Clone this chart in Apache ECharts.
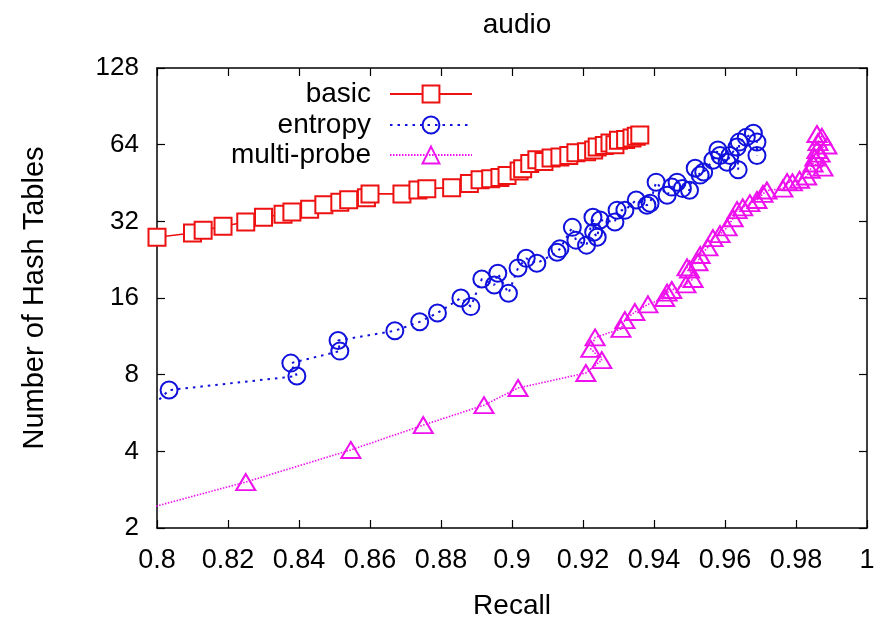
<!DOCTYPE html>
<html>
<head>
<meta charset="utf-8">
<title>audio</title>
<script src="https://cdn.jsdelivr.net/npm/echarts@6/dist/echarts.min.js"></script>
<style>
  html, body { margin: 0; padding: 0; background: #fff; }
  #chart { width: 882px; height: 621px; }
</style>
</head>
<body>
<div id="chart"></div>
<script>
// values (recall vs number of hash tables)
const basicRecall = [0.800, 0.810, 0.813, 0.8186, 0.825, 0.830, 0.8355, 0.838, 0.843, 0.847,
  0.8515, 0.854, 0.859, 0.860, 0.869, 0.8735, 0.876, 0.883, 0.888, 0.891,
  0.894, 0.8966, 0.8986, 0.902, 0.903, 0.905, 0.907, 0.909, 0.911, 0.9135,
  0.916, 0.918, 0.921, 0.923, 0.924, 0.926, 0.9276, 0.929, 0.930, 0.932,
  0.9338, 0.935, 0.936];
const basicTables = [27.7, 28.8, 29.5, 30.6, 31.8, 33.2, 34.1, 34.8, 35.7, 37.2,
  38, 38.9, 39.6, 41, 41, 42.5, 43, 43.4, 45, 46.6,
  47, 47.6, 48.4, 50.4, 51.5, 54, 55.8, 55, 56.7, 57.2,
  58, 59.5, 60, 61, 62.7, 63.5, 65, 64, 66.6, 67,
  68, 69, 69.8];

const entropyRecall = [0.790, 0.8034, 0.8394, 0.8377, 0.8515, 0.851, 0.867, 0.874, 0.879, 0.8856,
  0.8884, 0.8915, 0.895, 0.896, 0.899, 0.9017, 0.904, 0.907, 0.9127, 0.9135,
  0.917, 0.918, 0.921, 0.9228, 0.923, 0.924, 0.9248, 0.929, 0.9296, 0.9318,
  0.935, 0.938, 0.9389, 0.9406, 0.9437, 0.945, 0.9465, 0.948, 0.950, 0.9516,
  0.953, 0.954, 0.9566, 0.958, 0.9586, 0.9606, 0.9614, 0.9634, 0.9637, 0.964,
  0.966, 0.968, 0.969, 0.969];
const entropyTables = [4.6, 6.96, 7.9, 8.88, 9.9, 10.9, 11.9, 12.9, 13.97, 16,
  14.8, 19, 18, 20, 16.7, 21, 22.9, 21.9, 24.2, 25,
  30.3, 27, 25.8, 33.2, 29, 27.7, 32.4, 31.8, 35.4, 35.4,
  38.8, 37, 37.7, 45.6, 40.5, 43.6, 45.6, 43.1, 42.4, 51.7,
  48.6, 50, 55.6, 61, 58, 54.6, 58, 62.6, 51, 65.5,
  68.5, 71, 65.5, 58];

const multiRecall = [0.790, 0.825, 0.8546, 0.875, 0.8921, 0.9017, 0.9208, 0.9253, 0.9222, 0.9234,
  0.9307, 0.9318, 0.9346, 0.9383, 0.943, 0.9437, 0.945, 0.949, 0.951, 0.950,
  0.9493, 0.9524, 0.953, 0.9552, 0.9566, 0.9586, 0.9606, 0.9623, 0.9634, 0.965,
  0.967, 0.969, 0.9707, 0.9718, 0.9763, 0.9775, 0.979, 0.981, 0.983, 0.984,
  0.9848, 0.9876, 0.9853, 0.9868, 0.9859, 0.9887, 0.9862, 0.9873, 0.9859];
const multiTables = [2.24, 3.03, 4.05, 5.07, 6.07, 7.09, 8.12, 9.13, 10.1, 11.2,
  12.1, 13.1, 14.1, 15.1, 16, 16.8, 17.2, 18.1, 19, 20.7,
  21.1, 22.1, 23.6, 25.3, 27.5, 28.5, 30.3, 32.9, 35.4, 36.3,
  37.7, 38.8, 41, 42.3, 43, 45.6, 45.5, 46.6, 48, 51,
  54, 52, 57, 59, 61, 63.5, 65.5, 68.7, 70.5];

const xTicks = [0.8, 0.82, 0.84, 0.86, 0.88, 0.9, 0.92, 0.94, 0.96, 0.98, 1];
const yTicks = [2, 4, 8, 16, 32, 64, 128];

const FONT = 'Liberation Sans, Arial, sans-serif';
const pairs = (xs, ys) => xs.map((x, i) => [x, ys[i]]);

const chart = echarts.init(document.getElementById('chart'));

const axisLine = { lineStyle: { color: '#000', width: 1.5 } };
const tick = { inside: true, length: 8, lineStyle: { color: '#000', width: 1.2 } };

const legendBase = {
  orient: 'vertical',
  right: 404,
  align: 'right',
  itemWidth: 82,
  itemHeight: 21,
  selectedMode: false,
  textStyle: { fontFamily: FONT, fontSize: 28, color: '#000', padding: [0, 14, 0, 0] }
};

chart.setOption({
  animation: false,
  title: {
    text: 'audio',
    left: 512,
    textAlign: 'center',
    top: 6,
    textStyle: { fontFamily: FONT, fontSize: 28, fontWeight: 'normal', color: '#000' }
  },
  legend: [
    Object.assign({}, legendBase, { top: 75, data: ['basic'] }),
    Object.assign({}, legendBase, { top: 106, data: ['entropy'] }),
    Object.assign({}, legendBase, { top: 136, data: ['multi-probe'] })
  ],
  grid: { left: 157, right: 15, top: 68, bottom: 93, containLabel: false, outerBoundsMode: 'none' },
  xAxis: [
    {
      type: 'value',
      min: xTicks[0],
      max: xTicks[xTicks.length - 1],
      interval: 0.02,
      name: 'Recall',
      nameLocation: 'middle',
      nameGap: 64,
      nameTextStyle: { fontFamily: FONT, fontSize: 28, color: '#000' },
      axisLine: axisLine,
      axisTick: tick,
      splitLine: { show: false },
      axisLabel: {
        fontFamily: FONT, fontSize: 27, color: '#000', margin: 19,
        formatter: (v) => String(+v.toFixed(2))
      }
    },
    {
      type: 'value',
      position: 'top',
      min: xTicks[0],
      max: xTicks[xTicks.length - 1],
      interval: 0.02,
      axisLine: axisLine,
      axisTick: tick,
      splitLine: { show: false },
      axisLabel: { show: false }
    }
  ],
  yAxis: [
    {
      type: 'log',
      logBase: 2,
      min: yTicks[0],
      max: yTicks[yTicks.length - 1],
      interval: 1,
      name: 'Number of Hash Tables',
      nameLocation: 'middle',
      nameGap: 108,
      nameTextStyle: { fontFamily: FONT, fontSize: 29, color: '#000' },
      axisLine: axisLine,
      axisTick: tick,
      splitLine: { show: false },
      axisLabel: { fontFamily: FONT, fontSize: 26, color: '#000', margin: 18 }
    },
    {
      type: 'log',
      logBase: 2,
      position: 'right',
      min: yTicks[0],
      max: yTicks[yTicks.length - 1],
      interval: 1,
      axisLine: axisLine,
      axisTick: tick,
      splitLine: { show: false },
      axisLabel: { show: false }
    }
  ],
  series: [
    {
      name: 'basic',
      type: 'line',
      data: pairs(basicRecall, basicTables),
      symbol: 'rect',
      symbolSize: 17,
      itemStyle: { color: '#fff', borderColor: '#ee1111', borderWidth: 2 },
      lineStyle: { color: '#ee1111', width: 1.6 },
      color: '#ee1111'
    },
    {
      name: 'entropy',
      type: 'line',
      data: pairs(entropyRecall, entropyTables),
      symbol: 'circle',
      symbolSize: 17,
      itemStyle: { color: 'rgba(255,255,255,0)', borderColor: '#1111dd', borderWidth: 2 },
      lineStyle: { color: '#1111dd', width: 2, type: [2.5, 5] },
      color: '#1111dd'
    },
    {
      name: 'multi-probe',
      type: 'line',
      data: pairs(multiRecall, multiTables),
      symbol: 'triangle',
      symbolSize: [19, 16],
      itemStyle: { color: 'rgba(255,255,255,0)', borderColor: '#ee11ee', borderWidth: 2 },
      lineStyle: { color: '#ee11ee', width: 1.6, type: [1.5, 1.5] },
      color: '#ee11ee'
    }
  ]
});
</script>
</body>
</html>
